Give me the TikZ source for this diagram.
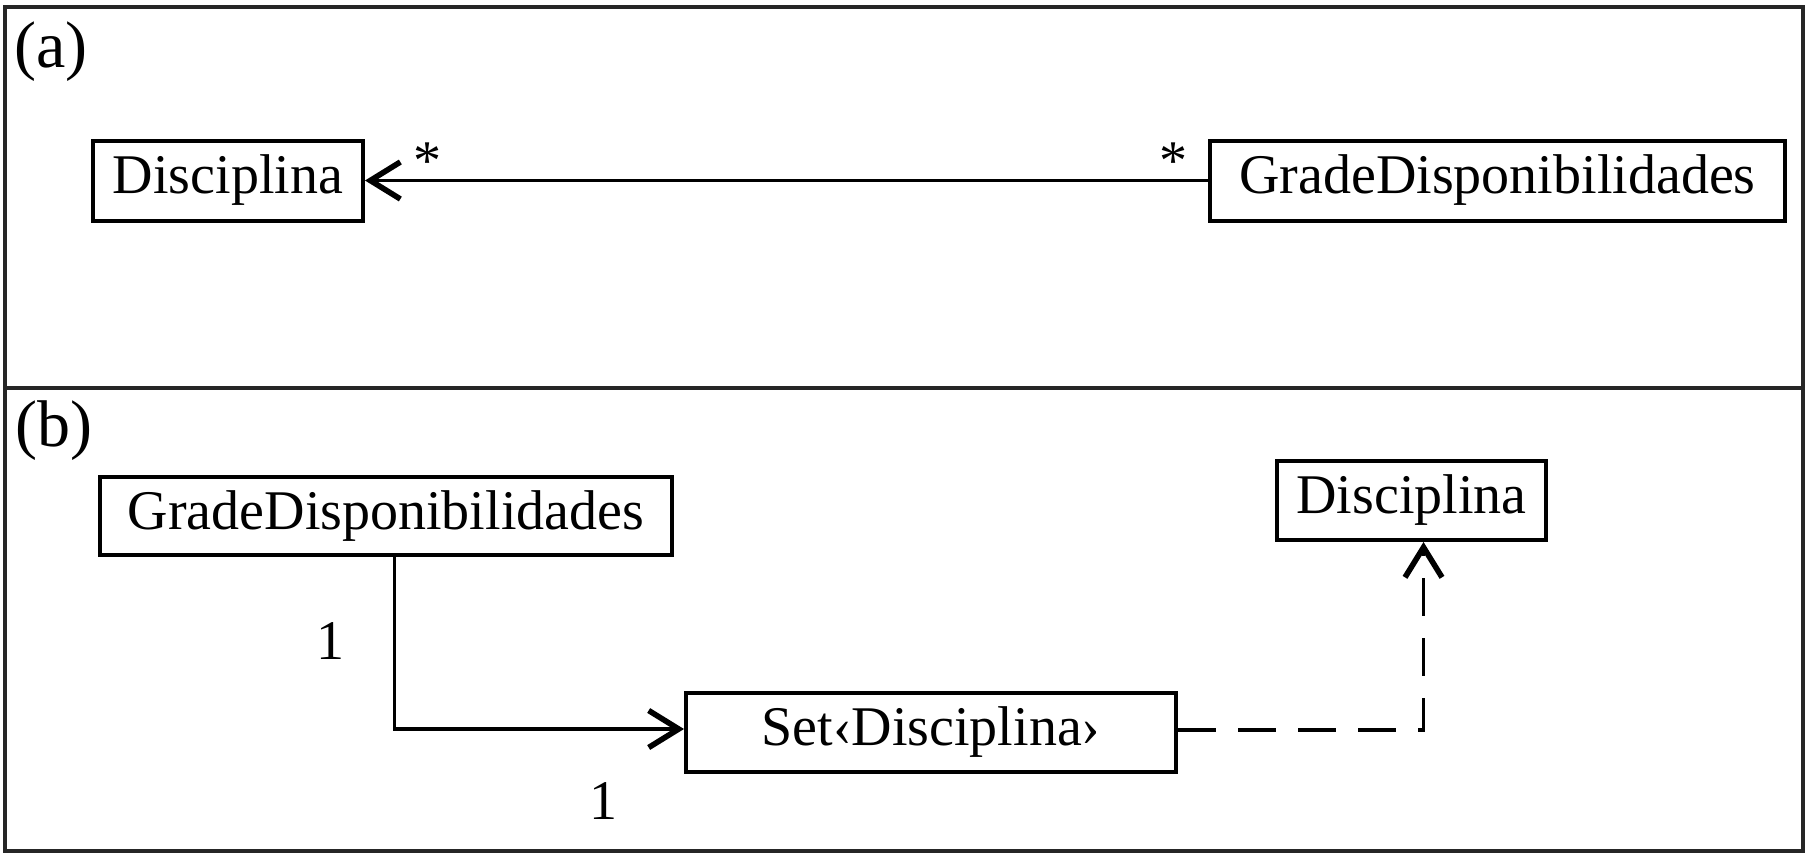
\documentclass[tikz,border=0pt]{standalone}
\usepackage{fontspec}
\setmainfont{Liberation Serif}
\usetikzlibrary{arrows.meta}
\tikzset{
  classbox/.style={draw=black, line width=2pt, inner sep=0pt, fill=white,
    font=\fontsize{28}{32}\selectfont},
  assoc/.style={line width=1.6pt,
    -{Straight Barb[length=15pt,width=18.5pt,line width=2.8pt 0]}},
  dep/.style={assoc, dash pattern=on 19pt off 11pt},
  mult/.style={font=\fontsize{28}{32}\selectfont, inner sep=0pt},
  panel/.style={line width=2pt, draw=black!85},
  tag/.style={font=\fontsize{33}{36}\selectfont, inner sep=0pt},
}
\begin{document}
\begin{tikzpicture}[x=0.5pt,y=-0.5pt]
\useasboundingbox (0,0) rectangle (1807,852);

% outer frame and divider between the two panels
\draw[panel] (5,7) rectangle (1803,851);
\draw[panel] (5,388) -- (1803,388);

% panel (a)
\node[tag] (tagA) at (51,52) {(a)};
\node[classbox, minimum width=135pt, minimum height=40pt] (disA) at (228,180.5) {Disciplina};
\node[classbox, minimum width=287.5pt, minimum height=40pt] (gradeA) at (1497.5,180.5) {GradeDisponibilidades};
\draw[assoc] (gradeA.west) -- (disA.east);
\node[mult, anchor=base] (mA1) at (427,179.5) {*};
\node[mult, anchor=base] (mA2) at (1173,179.5) {*};

% panel (b)
\node[tag] (tagB) at (54,431) {(b)};
\node[classbox, minimum width=286pt, minimum height=39pt] (gradeB) at (386,516) {GradeDisponibilidades};
\node[classbox, minimum width=134.5pt, minimum height=39.5pt] (disB) at (1411.5,500.5) {Disciplina};
\node[classbox, minimum width=245pt, minimum height=39.5pt] (setD) at (931,732.5) {Set‹Disciplina›};

\coordinate (elbowA) at (394.5,729);
\draw[assoc] (gradeB.south -| elbowA) -- (elbowA) -- (setD.west |- elbowA);
\node[mult] (mB1) at (330,641) {1};
\node[mult] (mB2) at (603,801) {1};

\coordinate (elbowD) at (1423.5,730);
\draw[dep] (setD.east |- elbowD) -- (elbowD) -- (disB.south -| elbowD);
\end{tikzpicture}
\end{document}
